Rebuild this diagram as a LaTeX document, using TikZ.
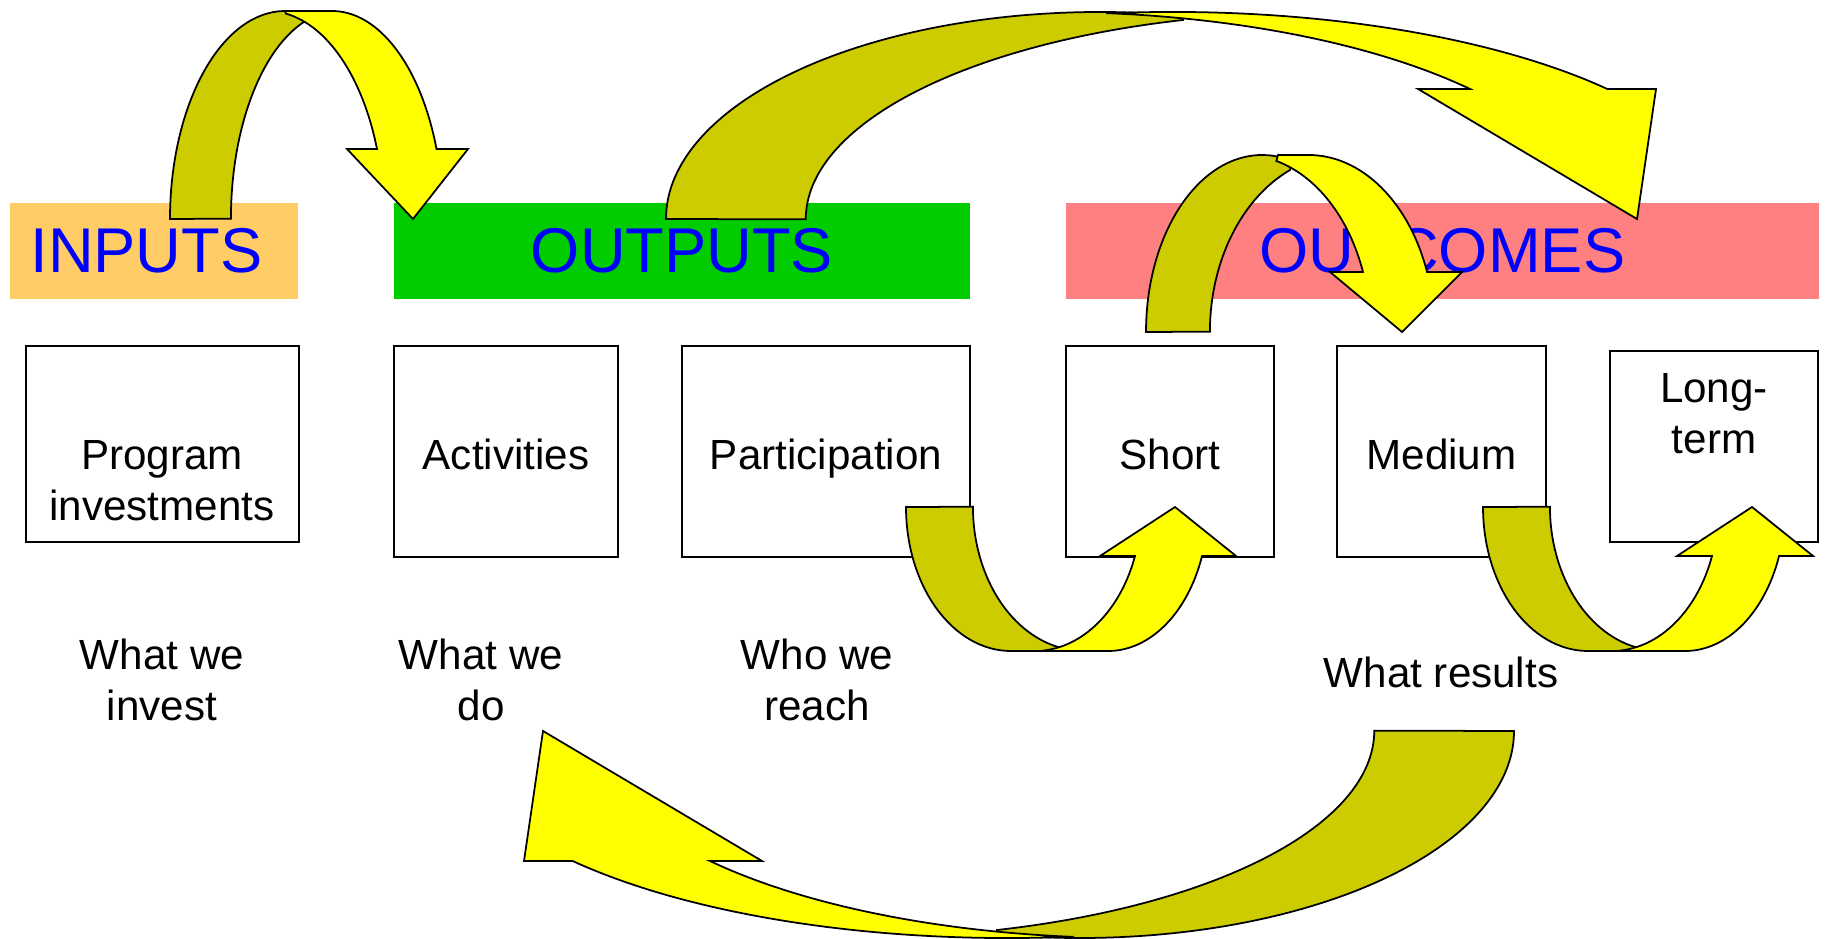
\documentclass[tikz,border=0pt]{standalone}
\usepackage{fontspec}
\setmainfont{Liberation Sans}
\definecolor{inputcol}{HTML}{FFCC66}
\definecolor{outputcol}{HTML}{00CC00}
\definecolor{outcomecol}{HTML}{FF8080}
\definecolor{banddark}{HTML}{CCCC00}
\definecolor{bandlight}{HTML}{FFFF00}
\tikzset{
  header/.style={minimum height=0.96cm, inner sep=0pt, text=blue, font=\fontsize{18}{21}\selectfont},
  box/.style={draw, line width=0.6pt, inner sep=0pt},
  lbl/.style={align=center, inner sep=0pt, anchor=north, font=\fontsize{12}{14.5}\selectfont},
  backband/.style={fill=banddark, draw, line width=0.5pt},
  frontband/.style={fill=bandlight, draw, line width=0.5pt}
}
\begin{document}
\begin{tikzpicture}
\useasboundingbox (0, 0) rectangle (18.28, -9.39);
\node (inputs)[header, fill=inputcol, minimum width=2.88cm] at (1.54, -2.51) {INPUTS\kern0.15cm};
\node (outputs)[header, fill=outputcol, minimum width=5.76cm] at (6.82, -2.51) {OUTPUTS};
\node (outcomes)[header, fill=outcomecol, minimum width=7.53cm] at (14.425, -2.51) {OUTCOMES};
\node (prog)[box, minimum width=2.73cm, minimum height=1.96cm] at (1.625, -4.44) {};
\node (act)[box, minimum width=2.24cm, minimum height=2.11cm] at (5.06, -4.515) {};
\node (part)[box, minimum width=2.88cm, minimum height=2.11cm] at (8.26, -4.515) {};
\node (short)[box, minimum width=2.08cm, minimum height=2.11cm] at (11.70, -4.515) {};
\node (medium)[box, minimum width=2.09cm, minimum height=2.11cm] at (14.415, -4.515) {};
\node (long)[box, minimum width=2.08cm, minimum height=1.91cm] at (17.14, -4.465) {};
\node (proglbl)[lbl] at (1.62, -4.40) {Program\\investments};
\node (actlbl)[lbl] at (5.06, -4.38) {Activities};
\node (partlbl)[lbl] at (8.26, -4.38) {Participation};
\node (shortlbl)[lbl] at (11.70, -4.38) {Short};
\node (mediumlbl)[lbl] at (14.415, -4.38) {Medium};
\node (longlbl)[lbl] at (17.14, -3.725) {Long-\\term};
\node (invest)[lbl] at (1.62, -6.385) {What we\\invest};
\node (do)[lbl] at (4.81, -6.385) {What we\\do};
\node (reach)[lbl] at (8.17, -6.385) {Who we\\reach};
\node (results)[lbl] at (14.41, -6.56) {What results};
% inputs to outputs
\draw[backband] (1.70, -2.19) arc[start angle=180, end angle=77, x radius=1.15, y radius=2.08] -- (3.07, -0.20) arc[start angle=107.2, end angle=180, x radius=1.08, y radius=2.08] -- cycle;
\draw[frontband] (2.85, -0.11) -- (3.32, -0.11) arc[start angle=90, end angle=19.7, x radius=1.11, y radius=2.08] -- (4.68, -1.49) -- (4.13, -2.19) -- (3.47, -1.49) -- (3.77, -1.49) arc[start angle=19.7, end angle=81, x radius=1.16, y radius=2.08] -- cycle;
% outputs to outcomes
\draw[backband] (6.66, -2.19) arc[start angle=180, end angle=79, x radius=4.34, y radius=2.07] -- (11.83, -0.20) arc[start angle=105.6, end angle=180, x radius=5.16, y radius=2.07] -- cycle;
\draw[frontband] (11.147, -0.131) arc[start angle=96, end angle=38.9, x radius=5.58, y radius=2.07] -- (16.56, -0.89) -- (16.37, -2.19) -- (14.18, -0.89) -- (14.70, -0.89) arc[start angle=38.9, end angle=84, x radius=5.40, y radius=2.07] -- cycle;
% short to medium
\draw[backband] (11.46, -3.32) arc[start angle=180, end angle=75, x radius=1.16, y radius=1.77] -- (12.90, -1.70) arc[start angle=114, end angle=180, x radius=1.35, y radius=1.77] -- cycle;
\draw[frontband] (12.78, -1.55) -- (13.085, -1.55) arc[start angle=90, end angle=19.8, x radius=1.26, y radius=1.77] -- (14.62, -2.72) -- (14.02, -3.32) -- (13.30, -2.72) -- (13.63, -2.72) arc[start angle=19.8, end angle=75, x radius=1.27, y radius=1.77] -- cycle;
% participation to short
\draw[backband] (9.06, -5.07) arc[start angle=180, end angle=270, x radius=1.05, y radius=1.44] -- (10.60, -6.51) -- (10.58, -6.47) arc[start angle=256.9, end angle=180, x radius=1.10, y radius=1.44] -- cycle;
\draw[frontband] (10.52, -6.51) -- (11.08, -6.51) arc[start angle=270, end angle=340.1, x radius=1.00, y radius=1.44] -- (12.36, -5.56) -- (11.75, -5.07) -- (11.00, -5.56) -- (11.35, -5.56) arc[start angle=340.1, end angle=276, x radius=1.065, y radius=1.44] -- cycle;
% medium to long-term
\begin{scope}[xshift=5.77cm]
\draw[backband] (9.06, -5.07) arc[start angle=180, end angle=270, x radius=1.05, y radius=1.44] -- (10.60, -6.51) -- (10.58, -6.47) arc[start angle=256.9, end angle=180, x radius=1.10, y radius=1.44] -- cycle;
\draw[frontband] (10.52, -6.51) -- (11.08, -6.51) arc[start angle=270, end angle=340.1, x radius=1.00, y radius=1.44] -- (12.36, -5.56) -- (11.75, -5.07) -- (11.00, -5.56) -- (11.35, -5.56) arc[start angle=340.1, end angle=276, x radius=1.065, y radius=1.44] -- cycle;
\end{scope}
% results back to activities
\begin{scope}[rotate around={180:(10.90, -4.75)}]
\draw[backband] (6.66, -2.19) arc[start angle=180, end angle=79, x radius=4.34, y radius=2.07] -- (11.83, -0.20) arc[start angle=105.6, end angle=180, x radius=5.16, y radius=2.07] -- cycle;
\draw[frontband] (11.147, -0.131) arc[start angle=96, end angle=38.9, x radius=5.58, y radius=2.07] -- (16.56, -0.89) -- (16.37, -2.19) -- (14.18, -0.89) -- (14.70, -0.89) arc[start angle=38.9, end angle=84, x radius=5.40, y radius=2.07] -- cycle;
\end{scope}
\end{tikzpicture}
\end{document}
